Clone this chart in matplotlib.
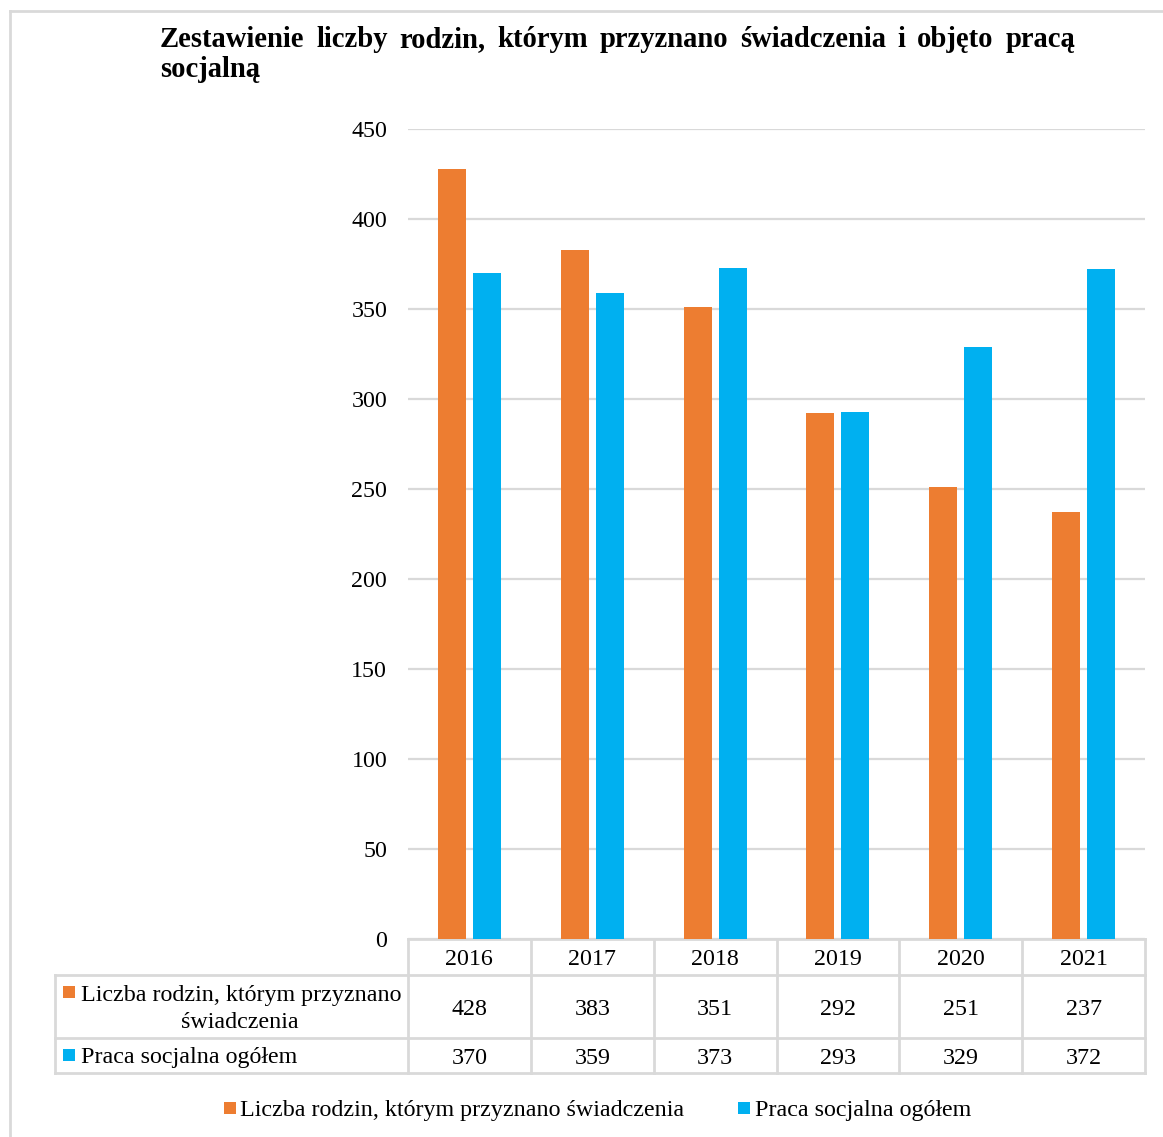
import matplotlib
matplotlib.use("Agg")
import matplotlib.pyplot as plt
from matplotlib.lines import Line2D
from matplotlib.patches import Rectangle
import matplotlib.transforms as mtransforms

plt.rcParams['font.family'] = ['Liberation Serif', 'DejaVu Serif']

years = ["2016", "2017", "2018", "2019", "2020", "2021"]
series_names = ["Liczba rodzin, którym przyznano świadczenia", "Praca socjalna ogółem"]
rodziny = [428, 383, 351, 292, 251, 237]
praca = [370, 359, 373, 293, 329, 372]
title_line1 = "Zestawienie liczby rodzin, którym przyznano świadczenia i objęto pracą"
title_line2 = "socjalną"

ORANGE = "#ED7D31"
BLUE = "#00B0F0"
GRID = "#D9D9D9"

W, H = 1163, 1137
fig = plt.figure(figsize=(W / 100, H / 100), dpi=100)

def fx(x):
    return x / W

def fy(y):
    return 1 - y / H

# axes: x 408..1145, y 129..939
ax = fig.add_axes([fx(408), fy(939), fx(1145) - fx(408), (939 - 129) / H])
n = len(years)
xs = [i + 0.5 for i in range(n)]
bw = 0.228
off = 0.143
ax.bar([x - off for x in xs], rodziny, width=bw, color=ORANGE, zorder=3)
ax.bar([x + off for x in xs], praca, width=bw, color=BLUE, zorder=3)
ax.set_xlim(0, n)
ax.set_ylim(0, 450)
ax.set_yticks(range(0, 451, 50))
ax.yaxis.grid(True, color=GRID, linewidth=1.6, zorder=0)
ax.set_xticks([])
for s in ["top", "right", "left"]:
    ax.spines[s].set_visible(False)
ax.spines["bottom"].set_color(GRID)
ax.spines["bottom"].set_linewidth(2)
fs = 17.3
ax.tick_params(axis="y", length=0, pad=15, labelsize=fs)

# blended transform: x in data, y in figure fraction
trans = mtransforms.blended_transform_factory(ax.transData, fig.transFigure)

def hline(x0px, x1px, ypx):
    fig.add_artist(Line2D([fx(x0px), fx(x1px)], [fy(ypx), fy(ypx)],
                          color=GRID, linewidth=2, transform=fig.transFigure))

# table
hline(55, 1145, 975)
hline(55, 1145, 1038)
hline(55, 1145, 1073)
for i in range(n + 1):
    fig.add_artist(Line2D([i, i], [fy(939), fy(1073)], color=GRID, linewidth=2,
                          transform=trans))
fig.add_artist(Line2D([fx(55), fx(55)], [fy(975), fy(1073)], color=GRID,
                      linewidth=2, transform=fig.transFigure))

d = 2.5  # vertical text offset
for i, x in enumerate(xs):
    fig.text(x, fy(957 + d), years[i], transform=trans, ha="center", va="center", fontsize=fs)
    fig.text(x, fy(1007 + d), str(rodziny[i]), transform=trans, ha="center", va="center", fontsize=fs)
    fig.text(x, fy(1056 + d), str(praca[i]), transform=trans, ha="center", va="center", fontsize=fs)

def square(xpx, ypx, color, size=12):
    fig.add_artist(Rectangle((fx(xpx), fy(ypx + size)), size / W, size / H,
                             facecolor=color, edgecolor="none", transform=fig.transFigure))

# row headers
square(63, 986, ORANGE)
fig.text(fx(81), fy(993 + d), "Liczba rodzin, którym przyznano", ha="left", va="center", fontsize=fs)
fig.text(fx(240), fy(1020 + d), "świadczenia", ha="center", va="center", fontsize=fs)
square(63, 1049, BLUE)
fig.text(fx(81), fy(1055 + d), "Praca socjalna ogółem", ha="left", va="center", fontsize=fs)

# legend
square(224, 1102, ORANGE)
fig.text(fx(240), fy(1108 + d), series_names[0], ha="left", va="center", fontsize=fs)
square(738, 1102, BLUE)
fig.text(fx(755), fy(1108 + d), series_names[1], ha="left", va="center", fontsize=fs)

# border (left and top)
fig.add_artist(Line2D([fx(10), fx(10)], [fy(11), 0], color=GRID, linewidth=2, transform=fig.transFigure))
fig.add_artist(Line2D([fx(10), 1], [fy(11), fy(11)], color=GRID, linewidth=2, transform=fig.transFigure))

# title, justified first line
tfs = 20.6
renderer = fig.canvas.get_renderer()
words = title_line1.split(" ")
left, right = 160, 1075
widths = []
tmp = []
for w in words:
    t = fig.text(0, 0, w, fontsize=tfs, fontweight="bold")
    bb = t.get_window_extent(renderer=renderer)
    widths.append(bb.width)
    tmp.append(t)
for t in tmp:
    t.remove()
gap = (right - left - sum(widths)) / (len(words) - 1)
xcur = left
for w, wd in zip(words, widths):
    fig.text(fx(xcur), fy(47), w, fontsize=tfs, fontweight="bold", ha="left", va="baseline")
    xcur += wd + gap
fig.text(fx(left), fy(77), title_line2, fontsize=tfs, fontweight="bold", ha="left", va="baseline")

fig.savefig("out.png", dpi=100)
